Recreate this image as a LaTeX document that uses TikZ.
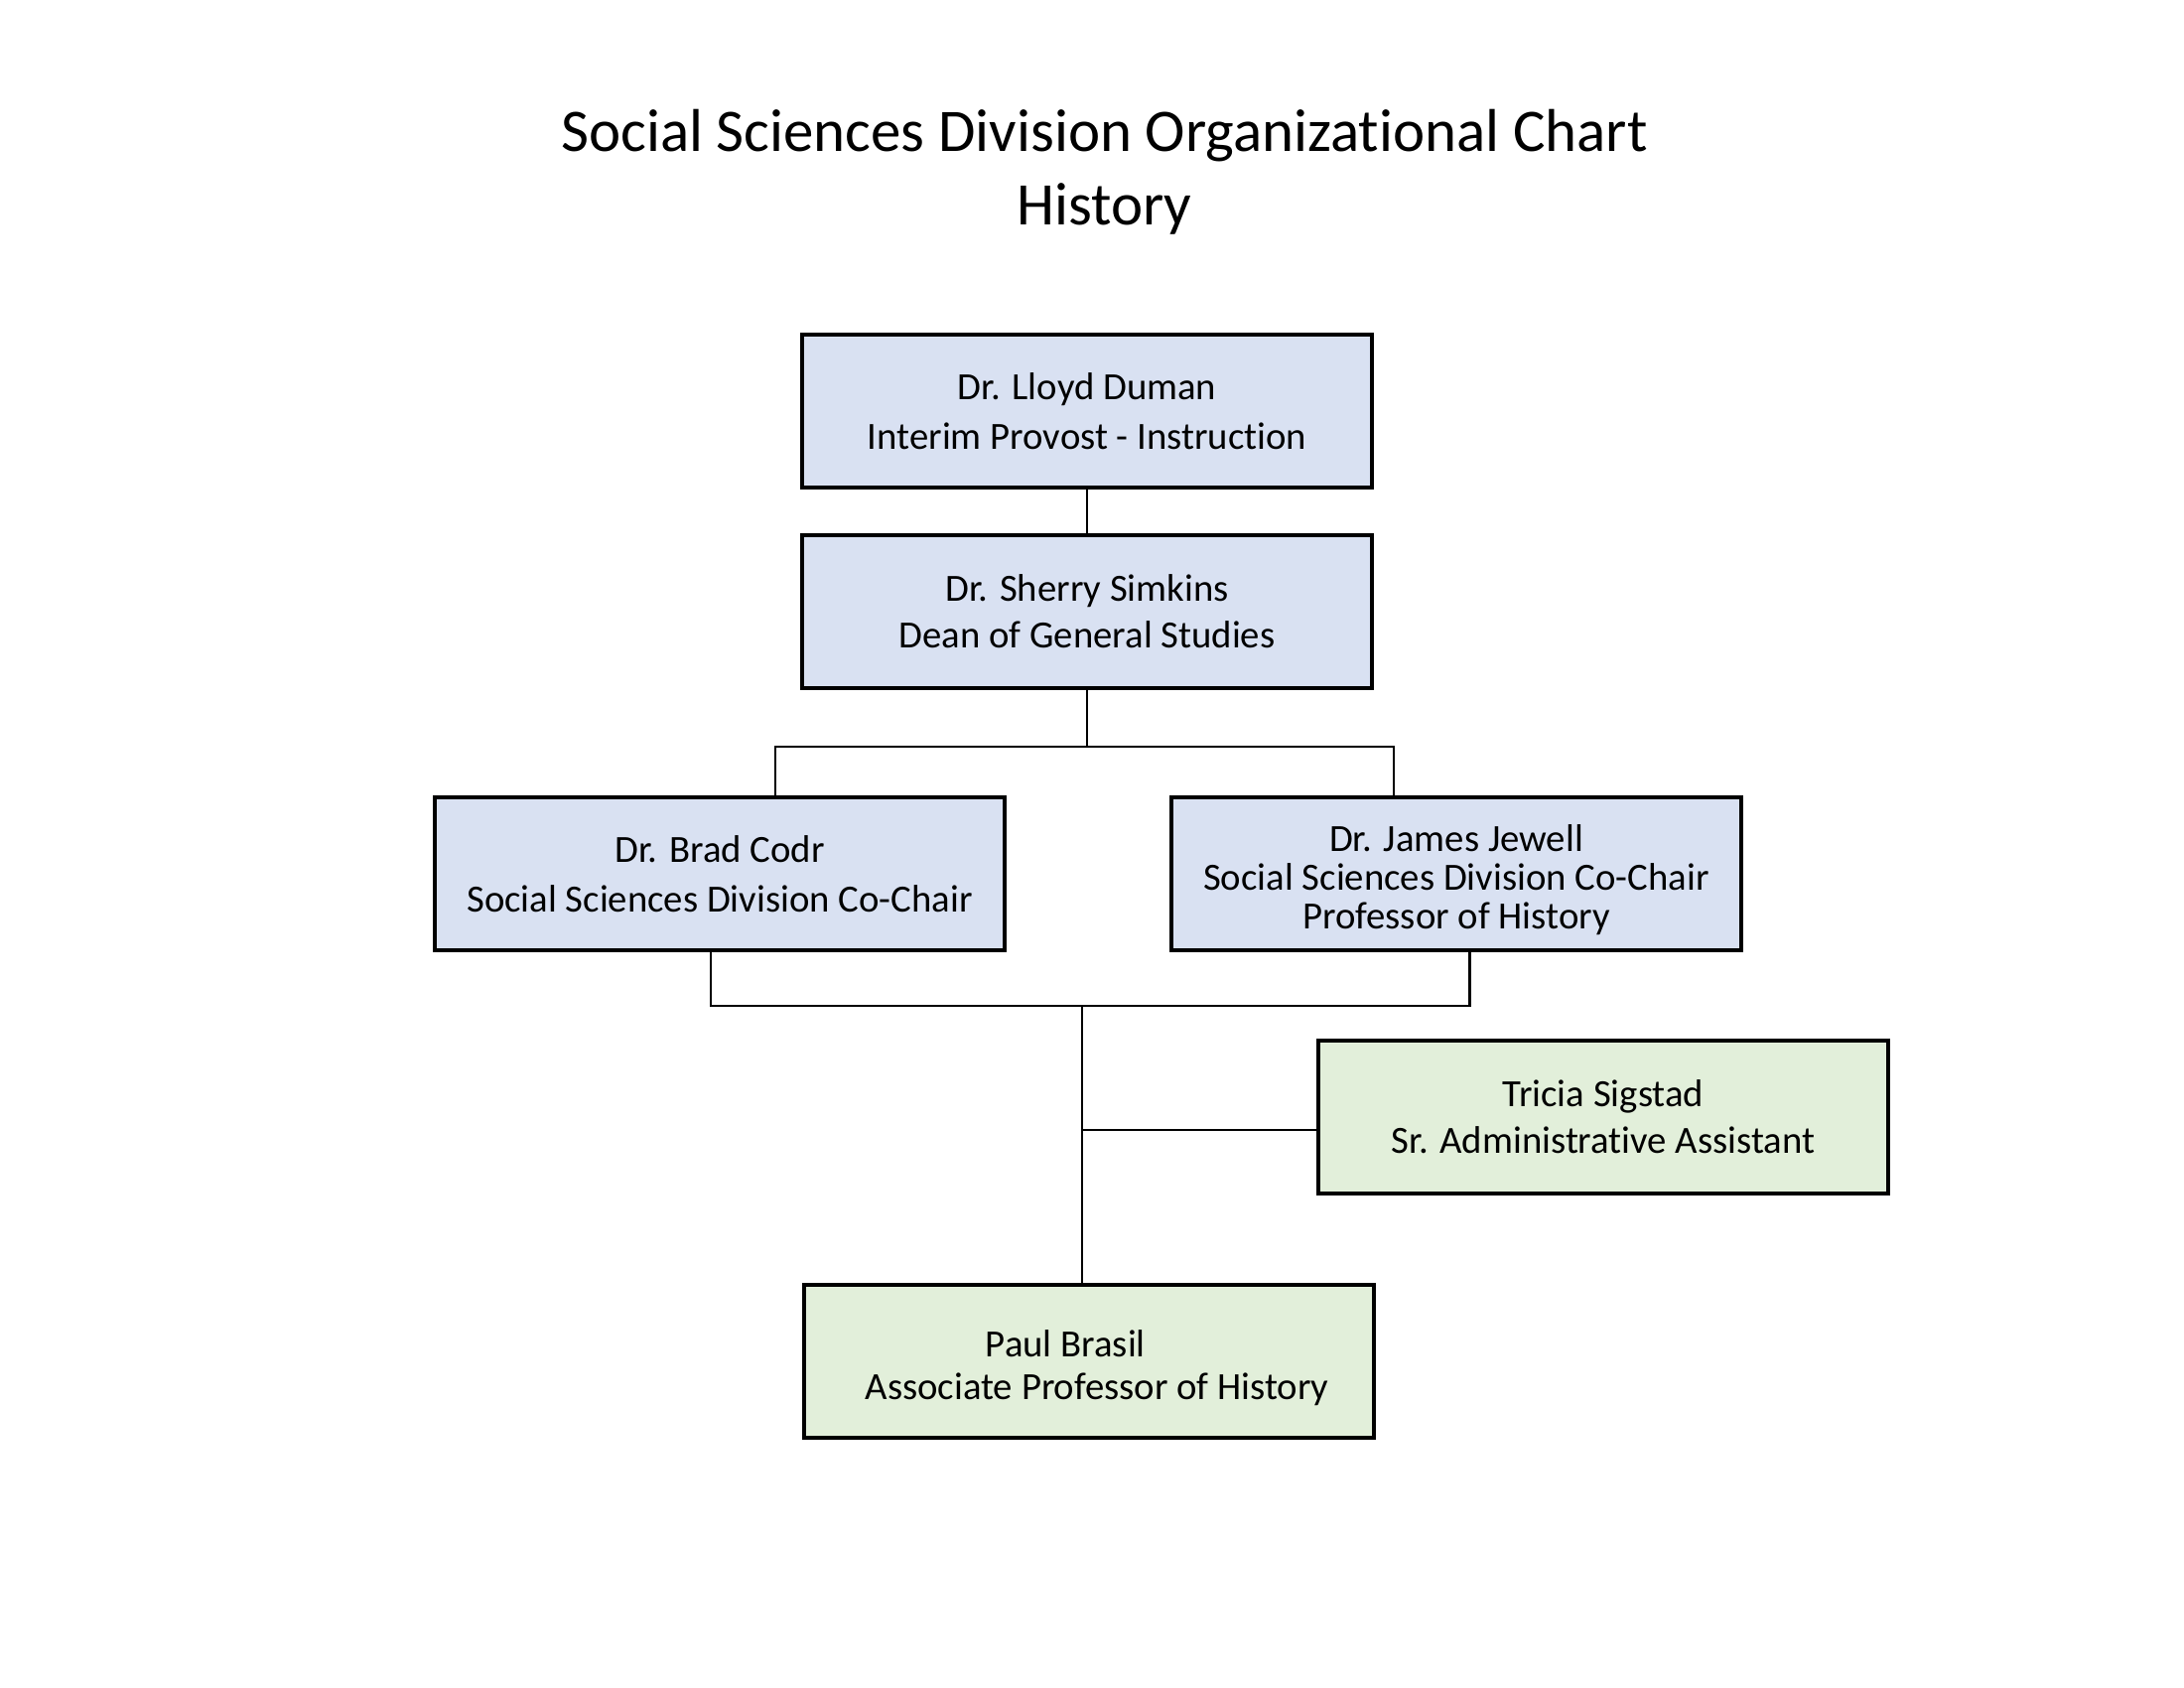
\documentclass[tikz,border=0pt]{standalone}
\usepackage{fontspec}
\setmainfont{Carlito}[Ligatures=NoCommon]
\usetikzlibrary{positioning}
\definecolor{leadblue}{HTML}{D9E1F2}
\definecolor{staffgreen}{HTML}{E2EFDA}

\tikzset{
  person/.style={draw=black, line width=1.6pt, minimum width=7.29cm, minimum height=1.96cm,
    align=center, inner sep=2pt, font=\fontsize{14}{18}\selectfont},
  lead/.style={person, fill=leadblue},
  staff/.style={person, fill=staffgreen},
  link/.style={line width=0.9pt}
}

\begin{document}
\begin{tikzpicture}
  \useasboundingbox[fill=white] (0,0) rectangle (27.94,-21.59);

  % title
  \node (title) at (14.13,-2.2) [font=\fontsize{22}{26.5}\selectfont, align=center]
    {Social Sciences Division Organizational Chart\\History};

  % boxes
  \node[lead] (duman) at (13.907,-5.258) {Dr. Lloyd Duman\\Interim Provost - Instruction};
  \node[lead, font=\fontsize{14}{17}\selectfont] (simkins) at (13.907,-7.823) {Dr. Sherry Simkins\\Dean of General Studies};
  \node[lead] (codr) at (9.208,-11.176) {Dr. Brad Codr\\Social Sciences Division Co-Chair};
  \node[lead, font=\fontsize{14}{14}\selectfont] (jewell) at (18.631,-11.176)
    {\raisebox{0pt}[14pt]{Dr. James Jewell}\\Social Sciences Division Co-Chair\\Professor of History};
  \node[staff, font=\fontsize{14}{17}\selectfont] (sigstad) at (20.51,-14.288) {Tricia Sigstad\\Sr. Administrative Assistant};
  \node[staff, font=\fontsize{14}{15.5}\selectfont] (brasil) at (13.93,-17.41)
    {\hspace*{6pt}\raisebox{0pt}[14.5pt]{Paul Brasil}\hspace*{23pt}\\\hspace*{6pt}Associate Professor of History};

  % connectors
  \coordinate (upperbus) at (13.907,-9.55);
  \coordinate (codrdrop) at (9.92,-9.55);
  \coordinate (jewelldrop) at (17.83,-9.55);
  \draw[link] (duman) -- (simkins);
  \draw[link] (simkins.south) -- (upperbus);
  \draw[link] (codrdrop |- codr.north) -- (codrdrop) -- (jewelldrop) -- (jewelldrop |- jewell.north);

  \coordinate (lowerbus) at (13.84,-12.865);
  \coordinate (codrtap) at (9.09,-12.865);
  \coordinate (jewelltap) at (18.80,-12.865);
  \draw[link] (codrtap |- codr.south) -- (codrtap) -- (jewelltap) -- (jewelltap |- jewell.south);
  \draw[link] (lowerbus) -- (lowerbus |- brasil.north);

  \coordinate (assisttap) at (13.84,-14.45);
  \draw[link] (assisttap) -- (assisttap -| sigstad.west);
\end{tikzpicture}
\end{document}
